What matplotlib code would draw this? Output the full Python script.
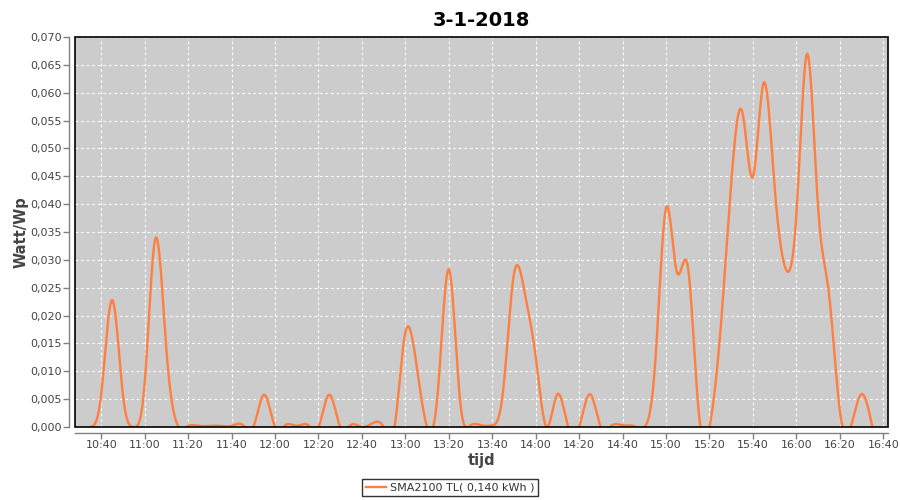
import numpy as np
import matplotlib
matplotlib.use("Agg")
import matplotlib.pyplot as plt
import matplotlib.dates as mdates
from matplotlib.patches import Rectangle
from matplotlib.ticker import FuncFormatter, MultipleLocator
import datetime as dt

title = "3-1-2018"
series_name = "SMA2100 TL( 0,140 kWh )"
x_label = "tijd"
y_label = "Watt/Wp"

times = ["10:35", "10:40", "10:45", "10:50", "10:55", "11:00", "11:05", "11:10", "11:15",
         "11:20", "11:25", "11:30", "11:35", "11:40", "11:45", "11:50", "11:55", "12:00",
         "12:05", "12:10", "12:15", "12:20", "12:25", "12:30", "12:35", "12:40", "12:45",
         "12:50", "12:55", "13:00", "13:05", "13:10", "13:15", "13:20", "13:25", "13:30",
         "13:35", "13:40", "13:45", "13:50", "13:55", "14:00", "14:05", "14:10", "14:15",
         "14:20", "14:25", "14:30", "14:35", "14:40", "14:45", "14:50", "14:55", "15:00",
         "15:05", "15:10", "15:15", "15:20", "15:25", "15:30", "15:35", "15:40", "15:45",
         "15:50", "15:55", "16:00", "16:05", "16:10", "16:15", "16:20", "16:25", "16:30",
         "16:35"]
values = [0.0, 0.0060, 0.0228, 0.0057, 0.0, 0.0080, 0.0339, 0.0138, 0.0005,
          0.0002, 0.0002, 0.0002, 0.0002, 0.0002, 0.0004, 0.0, 0.0058, 0.0,
          0.0004, 0.0002, 0.0004, 0.0, 0.0058, 0.0, 0.0004, 0.0, 0.0007,
          0.0, 0.0, 0.0170, 0.0115, 0.0, 0.0066, 0.0283, 0.0055, 0.0003,
          0.0003, 0.0003, 0.0065, 0.0275, 0.0240, 0.0126, 0.0, 0.0059, 0.0,
          0.0, 0.0059, 0.0, 0.0003, 0.0003, 0.0002, 0.0, 0.0114, 0.0393,
          0.0278, 0.0289, 0.0030, 0.0, 0.0170, 0.0437, 0.0567, 0.0449, 0.0618,
          0.0431, 0.0285, 0.0380, 0.0670, 0.0395, 0.0240, 0.0030, 0.0, 0.0059,
          0.0]

y_ticks_max = 0.070
x_tick_start = "10:40"
x_tick_end = "16:40"

day = dt.date(2018, 1, 3)
def to_dt(s):
    h, m = map(int, s.split(":"))
    return dt.datetime(day.year, day.month, day.day, h, m)

xd = mdates.date2num([to_dt(t) for t in times])
yv = np.array(values)

def natural_spline(x, y, xs):
    n = len(x)
    h = np.diff(x)
    A = np.zeros((n, n))
    r = np.zeros(n)
    A[0, 0] = 1.0
    A[-1, -1] = 1.0
    for i in range(1, n - 1):
        A[i, i - 1] = h[i - 1]
        A[i, i] = 2 * (h[i - 1] + h[i])
        A[i, i + 1] = h[i]
        r[i] = 3 * ((y[i + 1] - y[i]) / h[i] - (y[i] - y[i - 1]) / h[i - 1])
    c = np.linalg.solve(A, r)
    b = (y[1:] - y[:-1]) / h - h * (2 * c[:-1] + c[1:]) / 3
    d = (c[1:] - c[:-1]) / (3 * h)
    idx = np.clip(np.searchsorted(x, xs) - 1, 0, n - 2)
    dx = xs - x[idx]
    return y[idx] + b[idx] * dx + c[idx] * dx ** 2 + d[idx] * dx ** 3

xs = np.linspace(xd[0], xd[-1], 3000)
ys = natural_spline(xd, yv, xs)

fig = plt.figure(figsize=(9, 5), dpi=100)
ax = fig.add_axes([75 / 900, 1 - 427 / 500, (888 - 75) / 900, (427 - 37) / 500])
ax.set_facecolor("#CCCCCC")

line_color = "#FF7F40"
ax.plot(mdates.num2date(xs), ys, color=line_color, lw=1.7, label=series_name,
        solid_joinstyle="round")

ax.set_ylim(0, y_ticks_max)
t0 = to_dt(x_tick_start)
ax.set_xlim(t0 - dt.timedelta(minutes=12.1), to_dt(x_tick_end) + dt.timedelta(minutes=2.2))
ax.xaxis.set_major_locator(mdates.MinuteLocator(byminute=[0, 20, 40]))
ax.xaxis.set_major_formatter(mdates.DateFormatter("%H:%M"))
ax.yaxis.set_major_locator(MultipleLocator(0.005))
ax.yaxis.set_major_formatter(FuncFormatter(lambda v, p: f"{v:.3f}".replace(".", ",")))

ax.grid(True, color="white", linestyle=(0, (2.5, 2.5)), linewidth=0.8)
ax.set_axisbelow(True)

for s in ["top", "right"]:
    ax.spines[s].set_visible(False)
for s in ["left", "bottom"]:
    ax.spines[s].set_position(("outward", 4))
    ax.spines[s].set_color("#808080")
    ax.spines[s].set_linewidth(1.0)
ax.add_patch(Rectangle((0, 0), 1, 1, transform=ax.transAxes, fill=False,
                       ec="black", lw=1.2, clip_on=False, zorder=5))

ax.tick_params(axis="both", colors="#808080", labelcolor="#444444", labelsize=8,
               length=4, width=1, direction="out", pad=1.5)

ax.set_title(title, fontsize=14, fontweight="bold", pad=8, color="black")
ax.set_xlabel(x_label, fontsize=10.5, fontweight="bold", color="#444444", labelpad=2)
ax.set_ylabel(y_label, fontsize=10.5, fontweight="bold", color="#444444")
ax.yaxis.set_label_coords(-(75 - 29) / 813, 0.5)

leg = fig.legend(loc="center", bbox_to_anchor=(450 / 900, 1 - 487.5 / 500), frameon=True,
                 fontsize=8, handlelength=1.8, handletextpad=0.4, borderpad=0.35,
                 fancybox=False, labelcolor="#333333")
leg.get_frame().set_edgecolor("black")
leg.get_frame().set_linewidth(1.0)

fig.savefig("out.png", dpi=100)
